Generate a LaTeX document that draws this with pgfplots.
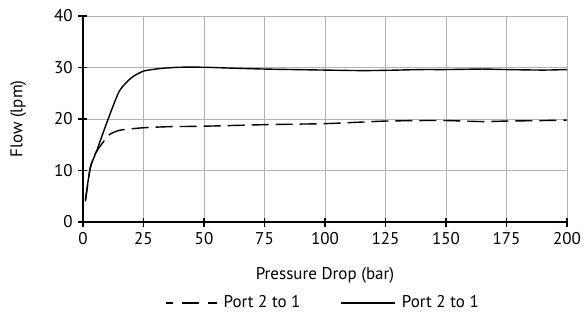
\documentclass[border=0pt]{standalone}
\usepackage{fontspec}
\setmainfont{PT Sans}
\usepackage{pgfplots}
\pgfplotsset{compat=1.18}
\pgfplotsset{dashleg/.style={legend image code/.code={\draw[##1, dash pattern=on 17bp off 9bp, dash phase=10bp] (0bp,0bp) -- (51bp,0bp);}}}
\begin{document}
\fontsize{17bp}{20bp}\selectfont
\begin{tikzpicture}
\begin{axis}[
  name=ax,
  scale only axis,
  width=484bp, height=206bp,
  xmin=0, xmax=200, ymin=0, ymax=40,
  xtick={0,25,...,200}, ytick={0,10,...,40},
  axis lines=left,
  axis line style={-, black, line width=1.3pt},
  tick align=center,
  major tick length=9bp,
  tick style={black, line width=1.3pt},
  grid=major,
  grid style={gray!60, line width=0.6pt},
  /pgf/number format/assume math mode=true,
  ticklabel style={font=\fontsize{17bp}{20bp}\selectfont},
  xlabel={Pressure Drop (bar)},
  ylabel={Flow (lpm)},
  label style={font=\fontsize{17bp}{20bp}\selectfont},
  xlabel style={at={(axis description cs:0.5,-0.257)}, anchor=center},
  ylabel style={at={(axis description cs:-0.134,0.5)}, anchor=center},
  legend style={at={(axis description cs:0.5,-0.393)}, anchor=center, draw=none, fill=none,
    legend columns=2, font=\fontsize{17bp}{20bp}\selectfont,
    nodes={inner xsep=6bp},
    /tikz/every even column/.append style={column sep=34bp}},
  legend image code/.code={\draw[#1] (0bp,0bp) -- (54bp,0bp);},
]
\addplot[black, line width=1.4pt, dash pattern=on 17bp off 7bp, smooth, tension=0.4, dashleg] coordinates {
 (1,4) (3,10.5) (5,13.2) (8,15.3) (11,17) (15,17.8) (20,18.1) (25,18.3) (35,18.5) (50,18.6)
 (75,18.9) (100,19.1) (115,19.4) (125,19.6) (140,19.7) (150,19.7) (165,19.5) (175,19.6) (190,19.7) (200,19.8)};
\addlegendentry{Port 2 to 1}
\addplot[black, line width=1.4pt, smooth, tension=0.4] coordinates {
 (1,4.3) (3,10.5) (5.8,14) (10,19.5) (15,25.4) (20,28) (25,29.3) (32,29.8) (40,30.05) (50,30.05)
 (60,29.9) (75,29.7) (100,29.5) (115,29.4) (125,29.45) (140,29.6) (150,29.6) (165,29.7) (175,29.6) (190,29.5) (200,29.6)};
\addlegendentry{Port 2 to 1}
\end{axis}
\pgfresetboundingbox
\useasboundingbox ([xshift=-83bp,yshift=-91bp]ax.south west) rectangle ([xshift=16bp,yshift=16bp]ax.north east);
\end{tikzpicture}
\end{document}
